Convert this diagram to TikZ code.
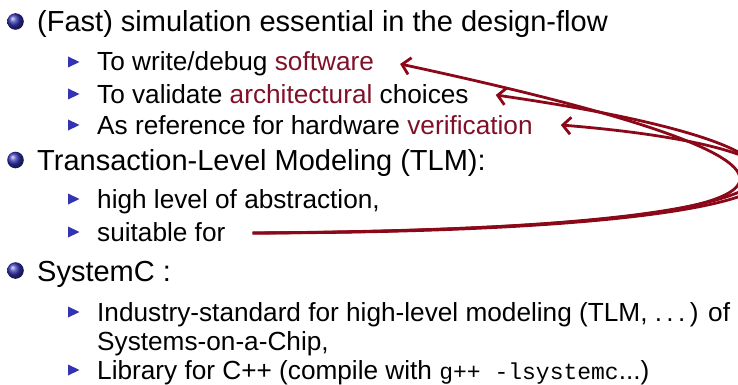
\documentclass[tikz,border=0pt]{standalone}
\usepackage{fontspec}
\setmainfont{Liberation Sans}
\setmonofont{Liberation Mono}
\usetikzlibrary{arrows.meta,calc}
\definecolor{bblue}{RGB}{51,51,179}
\definecolor{arrred}{RGB}{139,8,24}
\definecolor{wordred}{RGB}{128,16,40}
\newcommand{\lone}{\fontsize{29}{34}\selectfont}
\newcommand{\ltwo}{\fontsize{26.2}{31}\selectfont}
\newcommand{\wred}[1]{\textcolor{wordred}{#1}}
\tikzset{
  lonetext/.style={anchor=base west,inner sep=0pt,font=\lone},
  ltwotext/.style={anchor=base west,inner sep=0pt,font=\ltwo},
  arr/.style={draw=arrred,line width=2.8pt,-{Straight Barb[length=8pt,width=17pt]}},
}
\newcommand{\ballat}[2]{\shade[ball color=bblue] (#1,#2) circle[radius=8.3pt];}
\newcommand{\triat}[2]{\fill[bblue] (#1,#2-5.5) -- (#1+11.5,#2) -- (#1,#2+5.5) -- cycle;}
\begin{document}
\begin{tikzpicture}[x=1pt,y=-1pt]
\useasboundingbox (0,0) rectangle (738,385);
% level 1
\ballat{15.5}{21.5}
\node[lonetext] (l1a) at (37,32) {(Fast) simulation essential in the design-flow};
\triat{68}{62}
\node[ltwotext] (sw) at (97,71) {To write/debug \wred{software}};
\triat{68}{94}
\node[ltwotext] (ac) at (97,103) {To validate \wred{architectural} choices};
\triat{68}{125}
\node[ltwotext] (ve) at (97,134) {As reference for hardware \wred{verification}};
\ballat{15.5}{160}
\node[lonetext] (l1b) at (37,170.5) {Transaction-Level Modeling (TLM):};
\triat{68}{199}
\node[ltwotext] (hl) at (97,208) {high level of abstraction,};
\triat{68}{232}
\node[ltwotext] (su) at (97,241) {suitable for};
\ballat{15.5}{270.5}
\node[lonetext] (l1c) at (37,281) {SystemC :};
\triat{68}{312}
\node[ltwotext] (in) at (97,321) {Industry-standard for high-level modeling (TLM, .\,.\,.\,) of};
\node[ltwotext] (so) at (97,350) {Systems-on-a-Chip,};
\triat{68}{370}
\node[ltwotext] (li) at (97,379) {Library for C++ (compile with {\fontsize{23}{28}\selectfont\ttfamily g++ -lsystemc}...)};
% arrows
\coordinate (s) at ($(su.base east)+(27,-8)$);
\coordinate (t1) at ($(sw.base east)+(26,-7)$);
\coordinate (t2) at ($(ac.base east)+(27,-8)$);
\coordinate (t3) at ($(ve.base east)+(28,-9)$);
\draw[arr] (s) .. controls (880,228) and (870,165) .. (t1);
\draw[arr] (s) .. controls (880,230) and (878,150) .. (t2);
\draw[arr] (s) .. controls (880,232) and (870,150) .. (t3);
\end{tikzpicture}
\end{document}
